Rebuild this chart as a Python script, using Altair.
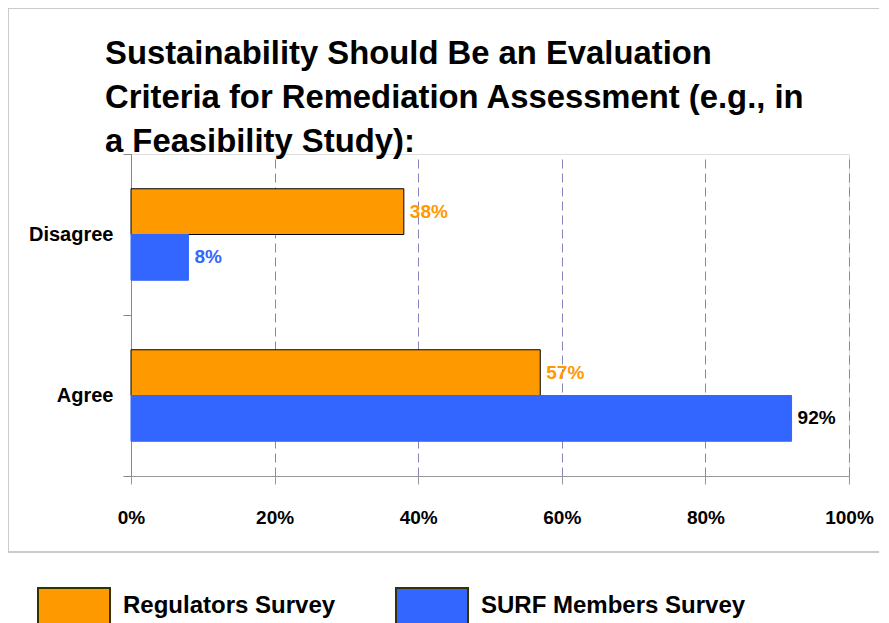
import altair as alt
import pandas as pd

categories = ["Disagree", "Agree"]
series_names = ["Regulators Survey", "SURF Members Survey"]
regulators = [38, 57]
surf = [8, 92]
label_colors_reg = ["#FF9900", "#FF9900"]
label_colors_surf = ["#3366FF", "#000000"]
x_ticks = [0, 20, 40, 60, 80, 100]

title_lines = [
    "Sustainability Should Be an Evaluation",
    "Criteria for Remediation Assessment (e.g., in",
    "a Feasibility Study):",
]

rows = []
for i, c in enumerate(categories):
    rows.append({"category": c, "series": series_names[0], "value": regulators[i],
                 "label": f"{regulators[i]}%", "lcolor": label_colors_reg[i]})
    rows.append({"category": c, "series": series_names[1], "value": surf[i],
                 "label": f"{surf[i]}%", "lcolor": label_colors_surf[i]})
df = pd.DataFrame(rows)

FONT = "Liberation Sans"
W, H = 718, 322

y_enc = alt.Y("category:N", sort=categories, title=None,
              scale=alt.Scale(paddingInner=0, paddingOuter=0),
              axis=alt.Axis(labelFont=FONT, labelFontSize=20, labelFontWeight="bold",
                            labelColor="black", domainColor="#888888", tickColor="#888888",
                            tickSize=8, tickBand="extent", labelPadding=10, grid=False))
yoff_enc = alt.YOffset("series:N", sort=series_names,
                       scale=alt.Scale(paddingInner=0, paddingOuter=0.76))
x_enc = alt.X("value:Q", title=None,
              scale=alt.Scale(domain=[0, 100], nice=False),
              axis=alt.Axis(values=x_ticks, labelExpr="datum.value + '%'",
                            labelFont=FONT, labelFontSize=19, labelFontWeight="bold",
                            labelColor="black", domainColor="#999999", tickColor="#999999",
                            tickSize=8, labelPadding=24, labelFlush=False,
                            grid=True, gridColor="#8585BB",
                            gridDash=[9, 5], gridWidth=1))

frame = alt.Chart(pd.DataFrame({"a": [0]})).mark_rect(
    fillOpacity=0, stroke="#BBBBBB", strokeWidth=1.5
).encode(x=alt.value(-123), x2=alt.value(780), y=alt.value(-146), y2=alt.value(398))

bars = alt.Chart(df).mark_bar(strokeWidth=1).encode(
    x=x_enc,
    y=y_enc,
    yOffset=yoff_enc,
    fill=alt.Fill("series:N", sort=series_names,
                  scale=alt.Scale(domain=series_names, range=["#FF9900", "#3366FF"]),
                  legend=alt.Legend(orient="none", legendX=-94, legendY=415,
                                    direction="horizontal", title=None,
                                    symbolType="M-1,-0.5H1V0.5H-1Z", symbolSize=5184,
                                    symbolStrokeColor="#333300", symbolStrokeWidth=2,
                                    symbolOpacity=1,
                                    labelFont=FONT, labelFontSize=24, labelFontWeight="bold",
                                    labelColor="black", labelOffset=12, columnPadding=56,
                                    padding=0, labelLimit=400)),
    stroke=alt.condition(alt.datum.series == series_names[0],
                         alt.value("#000000"), alt.value("#3366FF")),
)

texts = alt.Chart(df).mark_text(
    align="left", baseline="middle", dx=6, font=FONT, fontSize=19, fontWeight="bold"
).encode(
    x="value:Q",
    y=alt.Y("category:N", sort=categories),
    yOffset=alt.YOffset("series:N", sort=series_names),
    text="label:N",
    color=alt.Color("lcolor:N", scale=None),
)

chart = alt.layer(frame, bars, texts).properties(
    width=W, height=H,
    autosize="none",
    padding={"left": 123, "top": 146, "right": 30, "bottom": 150},
    title=alt.TitleParams(text=title_lines, anchor="start", frame="group",
                          font=FONT, fontSize=32.8, fontWeight="bold", color="black",
                          lineHeight=44, dx=-26, offset=-185, baseline="bottom"),
).configure_view(stroke="#7777AA", strokeWidth=1.5).configure(background="white")

chart.save("out.html", embed_options={"renderer": "svg", "actions": False})
